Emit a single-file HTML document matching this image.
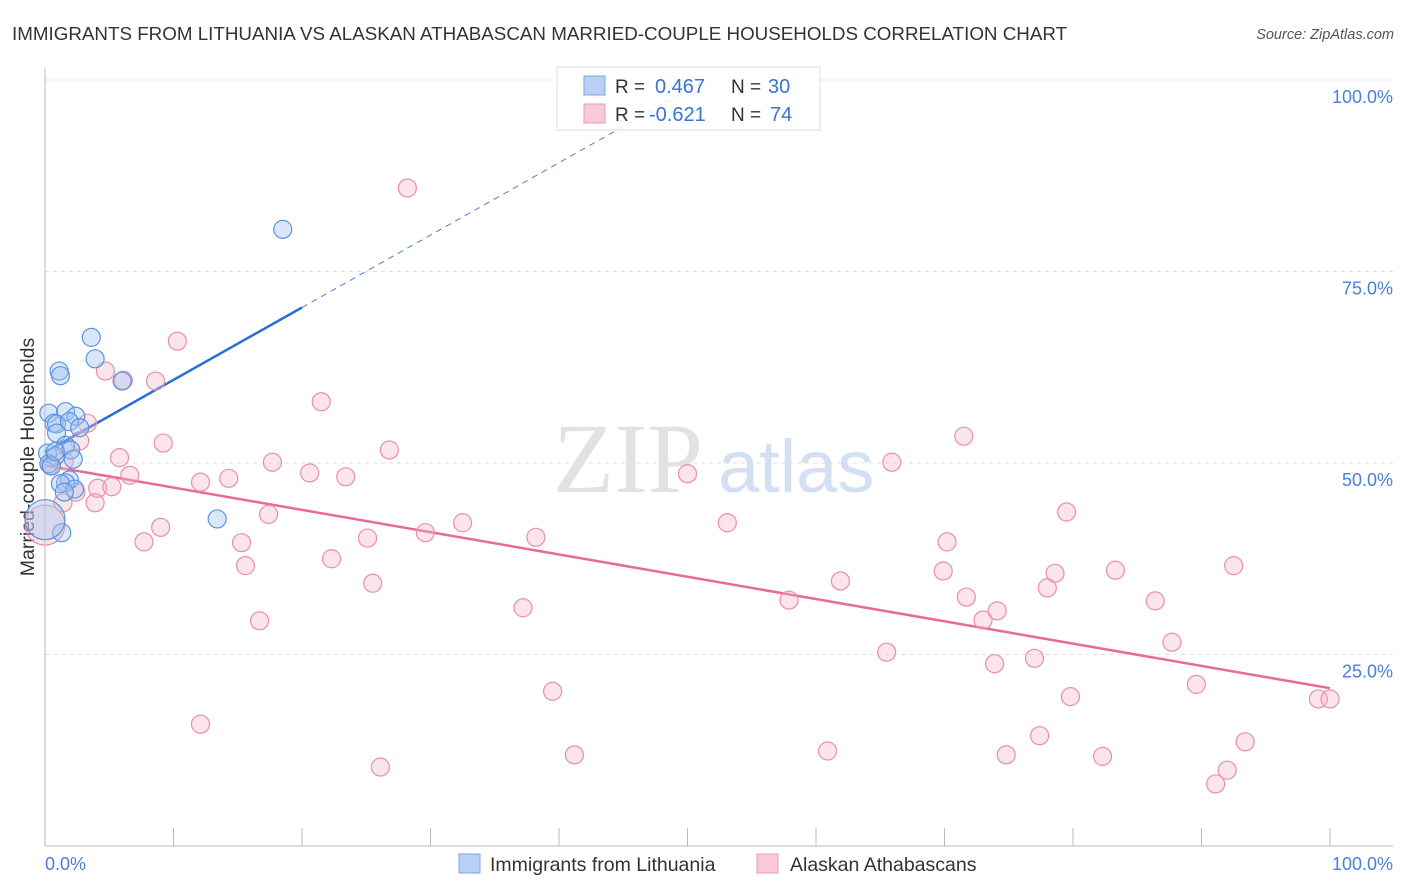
<!DOCTYPE html>
<html><head><meta charset="utf-8"><style>
body{margin:0;background:#fff;font-family:"Liberation Sans",sans-serif;}
svg{display:block}
</style></head><body>
<svg id="chart" width="1406" height="892">
<text x="12" y="40" font-size="18.8" fill="#333">IMMIGRANTS FROM LITHUANIA VS ALASKAN ATHABASCAN MARRIED-COUPLE HOUSEHOLDS CORRELATION CHART</text>
<text x="1394" y="39" font-size="14.5" fill="#555" font-style="italic" text-anchor="end">Source: ZipAtlas.com</text>
<text x="0" y="0" transform="translate(34,457) rotate(-90)" font-size="19.5" fill="#333" text-anchor="middle">Married-couple Households</text>
<g id="grid"></g>
<text x="553" y="492" font-size="100" fill="#e2e2e2" font-family="Liberation Serif,serif">ZIP</text>
<text x="718" y="492" font-size="74" fill="#d3e0f2">atlas</text>
<g id="lines"></g>
<g id="pts"></g>
<g>
<rect x="557" y="67" width="263" height="63" fill="#fff" fill-opacity="0.85" stroke="#ddd"/>
<rect x="584" y="76" width="21" height="19" fill="#b8d0f4" stroke="#7aa6e6"/>
<rect x="584" y="104" width="21" height="19" fill="#fbc8d6" stroke="#ee9ab4"/>
<text x="615" y="93" font-size="19" fill="#333">R =<tspan x="655" fill="#3b73d0" font-size="20">0.467</tspan><tspan x="731" fill="#333">N =</tspan><tspan x="768" fill="#3b73d0" font-size="20">30</tspan></text>
<text x="615" y="121" font-size="19" fill="#333">R =<tspan x="649" fill="#3b73d0" font-size="20">-0.621</tspan><tspan x="731" fill="#333">N =</tspan><tspan x="770" fill="#3b73d0" font-size="20">74</tspan></text>
</g>
<text x="45" y="870" font-size="18" fill="#4a7fd6">0.0%</text>
<text x="1393" y="870" font-size="18" fill="#4a7fd6" text-anchor="end">100.0%</text>
<rect x="459" y="854" width="21" height="19" fill="#b8d0f4" stroke="#7aa6e6"/>
<text x="490" y="871" font-size="19.5" fill="#333">Immigrants from Lithuania</text>
<rect x="757" y="854" width="21" height="19" fill="#fbc8d6" stroke="#ee9ab4"/>
<text x="790" y="871" font-size="19.5" fill="#333">Alaskan Athabascans</text>
</svg>
<script>
const yTicks=[25,50,75,100];
const yTickLabels=["25.0%","50.0%","75.0%","100.0%"];
const xTicks=[10,20,30,40,50,60,70,80,90,100];
const blueX=[3.6,3.9,1.1,1.2,6.0,18.5,0.3,1.6,2.4,0.7,0.9,1.9,2.7,0.9,1.6,2.0,0.2,0.8,2.2,0.3,0.5,1.9,1.6,1.2,2.3,1.5,13.4,1.3,0.0,0.8];
const blueY=[66.4,63.6,62.0,61.4,60.7,80.5,56.5,56.7,56.1,55.2,55.1,55.4,54.6,53.9,52.3,51.7,51.3,50.9,50.5,49.9,49.6,47.8,47.4,47.3,46.6,46.2,42.7,40.9,42.6,51.5];
const pinkX=[28.2,10.3,4.7,6.1,8.6,21.5,3.3,2.7,9.2,26.8,5.8,17.7,1.5,20.6,6.6,23.4,14.3,12.1,4.1,5.2,2.4,3.9,1.4,17.4,9.0,29.6,32.5,7.7,15.3,25.1,38.2,15.6,22.3,25.5,16.7,37.2,12.1,26.1,39.5,41.2,50.0,53.1,57.9,61.9,60.9,65.5,65.9,71.5,70.2,69.9,71.7,73.0,74.1,73.9,74.8,77.0,77.4,79.5,78.6,78.0,79.8,82.3,83.3,86.4,87.7,89.6,92.0,91.1,92.5,93.4,99.1,100,0.0,0.4];
const pinkY=[85.9,65.9,62.0,60.8,60.7,58.0,55.2,52.9,52.6,51.7,50.7,50.1,50.3,48.7,48.4,48.2,48.0,47.5,46.7,46.9,46.2,44.8,44.8,43.3,41.6,40.9,42.2,39.7,39.6,40.2,40.3,36.6,37.5,34.3,29.4,31.1,15.9,10.3,20.2,11.9,48.6,42.2,32.1,34.6,12.4,25.3,50.1,53.5,39.7,35.9,32.5,29.5,30.7,23.8,11.9,24.5,14.4,43.6,35.6,33.7,19.5,11.7,36.0,32.0,26.6,21.1,9.9,8.1,36.6,13.6,19.2,19.2,41.9,49.7];
const bigBlue=[28];const bigPink=[72];
const blueTrend=[51.4,70.3]; // y at x=0 and x=20
const pinkTrend=[49.7,20.6]; // y at x=0 and x=100
const NS="http://www.w3.org/2000/svg";
const sx=v=>45+v*12.85;
const sy=v=>846-v*7.66;
function mk(t,a,p){const e=document.createElementNS(NS,t);for(const k in a)e.setAttribute(k,a[k]);p.appendChild(e);return e;}
const grid=document.getElementById('grid');
yTicks.forEach((t,i)=>{
  const l=mk('line',{x1:45,x2:1393,y1:sy(t),y2:sy(t),stroke:'#ddd','stroke-dasharray':'4,4'},grid);
  
  
  const tx=mk('text',{x:1393,y:sy(t)+23,'font-size':18,fill:'#4a7fd6','text-anchor':'end'},grid);
  tx.textContent=yTickLabels[i];
  
  
});
const ax=mk('line',{x1:45,x2:45,y1:68,y2:846,stroke:'#bbb'},grid);


const bx=mk('line',{x1:45,x2:1393,y1:846,y2:846,stroke:'#bbb'},grid);


xTicks.forEach(t=>{
  const l=mk('line',{x1:sx(t),x2:sx(t),y1:828,y2:846,stroke:'#bbb'},grid);
  
  
});
const pts=document.getElementById('pts');
pinkX.forEach((x,i)=>{
  const c=mk('circle',{cx:sx(x),cy:sy(pinkY[i]),r:bigPink.includes(i)?20:9,fill:'#f7b3c7','fill-opacity':0.35,stroke:'#e98fab','stroke-width':1.2},pts);
  
  
});
blueX.forEach((x,i)=>{
  const c=mk('circle',{cx:sx(x),cy:sy(blueY[i]),r:bigBlue.includes(i)?20:9,fill:'#9fc2f0','fill-opacity':0.4,stroke:'#5d92de','stroke-width':1.2},pts);
  
  
});
const lines=document.getElementById('lines');
const slope=(blueTrend[1]-blueTrend[0])/20;
const xEnd=Math.min(100,(100-blueTrend[0])/slope);
const bd=mk('line',{x1:sx(20),y1:sy(blueTrend[1]),x2:sx(xEnd),y2:sy(blueTrend[0]+slope*xEnd),stroke:'#4a7fd6','stroke-width':1,'stroke-dasharray':'6,5'},lines);


const bl=mk('line',{x1:sx(0),y1:sy(blueTrend[0]),x2:sx(20),y2:sy(blueTrend[1]),stroke:'#2a6fd6','stroke-width':2.5},lines);


const pl=mk('line',{x1:sx(0),y1:sy(pinkTrend[0]),x2:sx(100),y2:sy(pinkTrend[1]),stroke:'#e8699a','stroke-width':2.5},lines);


</script>
</body></html>
